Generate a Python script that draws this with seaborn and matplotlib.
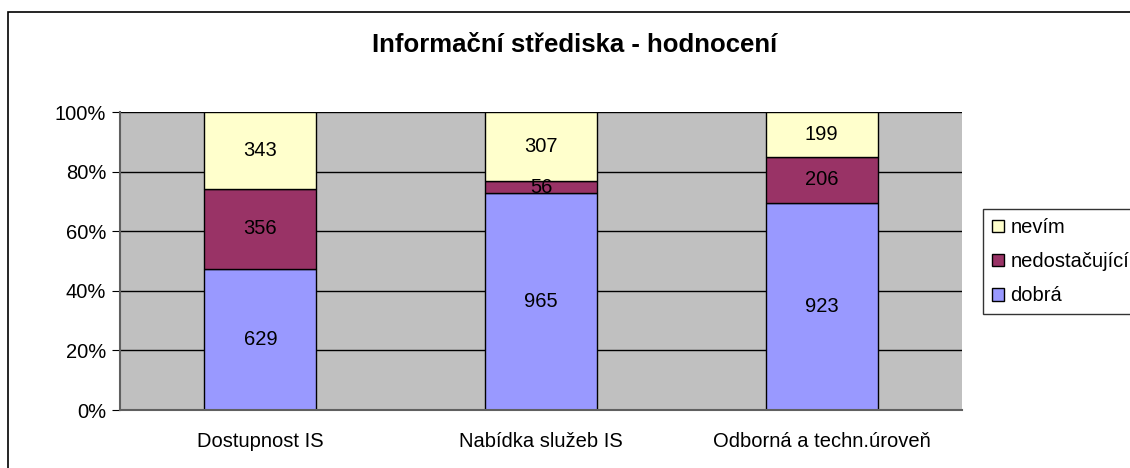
import matplotlib
matplotlib.use("Agg")
import matplotlib.pyplot as plt
import seaborn as sns
import pandas as pd
from matplotlib.patches import Rectangle, Patch

categories = ["Dostupnost IS", "Nabídka služeb IS", "Odborná a techn.úroveň"]
dobra = [629, 965, 923]
nedostacujici = [356, 56, 206]
nevim = [343, 307, 199]
series_names = ["dobrá", "nedostačující", "nevím"]
colors = {"dobrá": "#9999FF", "nedostačující": "#993366", "nevím": "#FFFFCC"}

sns.set_style("white")
plt.rcParams["font.family"] = ["Liberation Sans", "DejaVu Sans"]
plt.rcParams["text.color"] = "black"
plt.rcParams["xtick.color"] = "black"
plt.rcParams["ytick.color"] = "black"

df = pd.DataFrame({"kategorie": categories, "dobrá": dobra,
                   "nedostačující": nedostacujici, "nevím": nevim})
total = df[series_names].sum(axis=1)

fig = plt.figure(figsize=(11.3, 4.68), dpi=100)
ax = fig.add_axes([120/1130, 1 - 410/468, (962-120)/1130, (410-112)/468])
ax.set_facecolor("#C0C0C0")

bottom = pd.Series([0.0]*len(df))
for name in series_names:
    pct = df[name] / total * 100
    sns.barplot(x=df["kategorie"], y=pct, bottom=bottom, color=colors[name],
                width=0.4, edgecolor="black", linewidth=1, ax=ax, saturation=1)
    for i, (v, b, p) in enumerate(zip(df[name], bottom, pct)):
        ax.text(i, b + p/2, str(v), ha="center", va="center", fontsize=14.5, color="black")
    bottom = bottom + pct

ax.set_ylim(0, 100)
ax.set_xlim(-0.5, 2.5)
ax.set_yticks(range(0, 101, 20))
ax.set_yticklabels([f"{t}%" for t in range(0, 101, 20)], fontsize=14.5)
ax.yaxis.grid(True, color="black", linewidth=1)
ax.set_axisbelow(True)
ax.set_xticks(range(3))
ax.set_xticklabels(categories, fontsize=14.5)
ax.tick_params(axis="x", length=0, pad=16)
ax.set_xticks([0.5, 1.5], minor=True)
ax.tick_params(axis="x", which="minor", length=6, direction="out", color="black")
ax.tick_params(axis="y", length=6, direction="out", color="black", left=True, pad=4)
ax.set_xlabel("")
ax.set_ylabel("")
for s in ["top", "right"]:
    ax.spines[s].set_visible(False)
for s in ["left", "bottom"]:
    ax.spines[s].set_color("#606060")
    ax.spines[s].set_linewidth(1.5)

fig.text(575/1130, 1 - 45/468, "Informační střediska - hodnocení", ha="center",
         va="center", fontsize=18.5, fontweight="bold", color="black")

fig.patches.append(Rectangle((8/1130, -0.1), 1.2, 1 - 12/468 + 0.1, transform=fig.transFigure,
                             fill=False, edgecolor="black", linewidth=1.2))

handles = [Patch(facecolor=colors[n], edgecolor="black", label=n) for n in ["nevím", "nedostačující", "dobrá"]]
leg = fig.legend(handles=handles, loc="upper left", bbox_to_anchor=(983/1130, 1 - 209/468),
                 fontsize=14.5, frameon=True, fancybox=False, edgecolor="black",
                 handlelength=0.6, handleheight=0.6, handletextpad=0.3, borderpad=0.45,
                 labelspacing=0.75, borderaxespad=0)
leg.get_frame().set_linewidth(1)

fig.savefig("out.png", dpi=100)
